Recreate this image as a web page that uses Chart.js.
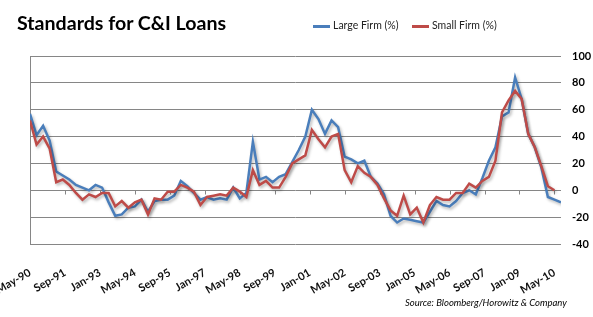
<!DOCTYPE html>
<html>
<head>
<meta charset="utf-8">
<script src="https://cdn.jsdelivr.net/npm/chart.js@4.4.0/dist/chart.umd.min.js"></script>
<style>
  body { margin: 0; background: #fff; }
  #wrap { position: relative; width: 593px; height: 317px; font-family: Lato, sans-serif; }
  #c { position: absolute; left: 0; top: 0; }
  .title { position: absolute; left: 17px; top: 11px; font-size: 19.6px; font-weight: 700; color: #000; white-space: nowrap; }
  .legend { position: absolute; top: 19px; font-size: 10.5px; color: #222; white-space: nowrap; }
  .legend span.sw { display: inline-block; width: 17px; height: 3px; vertical-align: middle; margin-right: 3px; }
  .source { position: absolute; left: 405px; top: 297px; font-size: 9.5px; font-style: italic; color: #000; white-space: nowrap; }
</style>
</head>
<body>
<div id="wrap">
  <canvas id="c" width="593" height="317"></canvas>
  <div class="title">Standards for C&amp;I Loans</div>
  <div class="legend" style="left:313px"><span class="sw" style="background:#4a7ebb"></span>Large Firm (%)</div>
  <div class="legend" style="left:412px"><span class="sw" style="background:#be4b48"></span>Small Firm (%)</div>
  <div class="source">Source: Bloomberg/Horowitz &amp; Company</div>
</div>
<script>
// quarterly survey readings, first one is May-90
const largeFirm = [57, 41, 48, 37, 14, 11, 8, 4, 2, 0, 4, 2, -9, -19, -18, -13, -12, -7, -16, -8,
  -7, -7, -4, 7, 3, -2, -7, -5, -7, -6, -7, 2, -6, -2, 36, 8, 10, 6, 10, 12,
  21, 30, 40, 60, 53, 42, 52, 47, 25, 23, 20, 22, 10, 5, -3, -19, -24, -21, -22, -23,
  -24, -16, -8, -11, -12, -8, -2, 0, -3, 9, 22, 32, 55, 58, 84, 68, 42, 32, 17, -5,
  -7, -9];
const smallFirm = [52, 34, 40, 31, 6, 8, 4, -2, -7, -3, -5, -2, -2, -12, -8, -13, -9, -7, -18, -6,
  -7, -1, -1, 4, 2, -1, -11, -5, -4, -3, -4, 2, -1, -5, 15, 4, 7, 2, 2, 10,
  20, 23, 26, 45, 38, 32, 40, 42, 15, 6, 18, 13, 10, 4, -6, -15, -19, -4, -18, -13,
  -24, -11, -5, -7, -7, -2, -2, 5, 2, 7, 10, 22, 58, 67, 74, 68, 42, 32, 18, 3,
  0];
// x labels every 16 months from May-90
const xLabels = ['May-90', 'Sep-91', 'Jan-93', 'May-94', 'Sep-95', 'Jan-97', 'May-98', 'Sep-99',
  'Jan-01', 'May-02', 'Sep-03', 'Jan-05', 'May-06', 'Sep-07', 'Jan-09', 'May-10'];
const yTicks = [-40, -20, 0, 20, 40, 60, 80, 100];

const toPoints = arr => arr.map((v, i) => ({ x: i * 3, y: v }));

// soft shadow under the lines, like the excel chart
const shadow = {
  id: 'shadow',
  beforeDatasetsDraw(chart) {
    const ctx = chart.ctx;
    ctx.save();
    ctx.shadowColor = 'rgba(0,0,0,0.28)';
    ctx.shadowBlur = 3;
    ctx.shadowOffsetX = 1.5;
    ctx.shadowOffsetY = 2;
  },
  afterDatasetsDraw(chart) {
    chart.ctx.restore();
  }
};

// left border line and little tick marks on the zero line
const axisMarks = {
  id: 'axisMarks',
  beforeDatasetsDraw(chart) {
    const { ctx, chartArea, scales } = chart;
    ctx.save();
    ctx.strokeStyle = '#868686';
    ctx.lineWidth = 1;
    ctx.beginPath();
    const lx = Math.round(chartArea.left) + 0.5;
    ctx.moveTo(lx, chartArea.top);
    ctx.lineTo(lx, chartArea.bottom);
    const y0 = Math.round(scales.y.getPixelForValue(0)) + 0.5;
    xLabels.forEach((l, i) => {
      const x = Math.round(scales.x.getPixelForValue(i * 16)) + 0.5;
      ctx.moveTo(x, y0);
      ctx.lineTo(x, y0 + 4);
    });
    ctx.stroke();
    ctx.restore();
  }
};

new Chart(document.getElementById('c'), {
  type: 'line',
  data: {
    datasets: [{
      label: 'Large Firm (%)',
      data: toPoints(largeFirm),
      borderColor: '#4a7ebb',
      borderWidth: 2.5,
      pointRadius: 0,
      order: 2
    }, {
      label: 'Small Firm (%)',
      data: toPoints(smallFirm),
      borderColor: '#be4b48',
      borderWidth: 2.5,
      pointRadius: 0,
      order: 1
    }]
  },
  options: {
    responsive: false,
    animation: false,
    layout: { padding: { left: 30, top: 56, right: 0, bottom: 0 } },
    plugins: {
      legend: { display: false },
      tooltip: { enabled: false }
    },
    scales: {
      x: {
        type: 'linear',
        min: 0,
        max: 243,
        grid: { display: false },
        border: { display: false },
        afterFit: s => { s.height = 73; s.paddingLeft = 0; s.paddingRight = 0; },
        ticks: {
          stepSize: 16,
          includeBounds: false,
          autoSkip: false,
          minRotation: 30,
          maxRotation: 30,
          padding: 14,
          color: '#111',
          font: { family: 'Lato', size: 11, weight: 'bold' },
          callback: v => xLabels[v / 16]
        }
      },
      y: {
        position: 'right',
        min: -40,
        max: 100,
        afterFit: s => { s.width = 32; },
        afterBuildTicks: s => { s.ticks = yTicks.map(v => ({ value: v })); },
        grid: { color: '#868686', drawTicks: false },
        border: { display: false },
        ticks: {
          padding: 11,
          color: '#000',
          font: { family: 'Lato', size: 11, weight: 'bold' }
        }
      }
    }
  },
  plugins: [axisMarks, shadow]
});
</script>
</body>
</html>
